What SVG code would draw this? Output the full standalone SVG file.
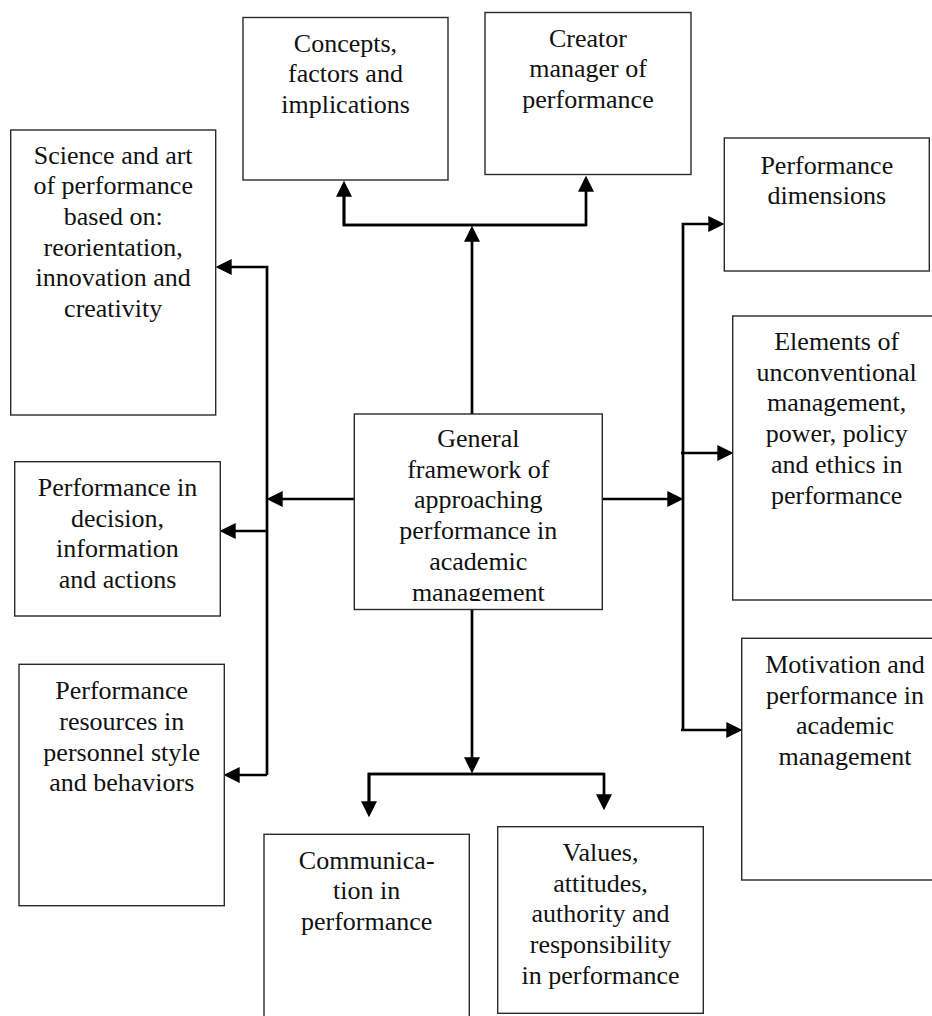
<svg xmlns="http://www.w3.org/2000/svg" width="932" height="1016" viewBox="0 0 932 1016">
<style>
.box{fill:#fff;stroke:#2a2a2a;stroke-width:1.4}
.t{font-family:"Liberation Serif","Times New Roman",serif;font-size:26px;fill:#111;text-anchor:middle}
.c{fill:none;stroke:#000;stroke-width:2.7}
</style>
<defs>
<marker id="ah" markerUnits="userSpaceOnUse" markerWidth="16" markerHeight="16" viewBox="0 0 15 15" refX="10" refY="7.5" orient="auto">
<path d="M0,0 L15,7.5 L0,15 z" fill="#000"/>
</marker>
<clipPath id="clipc"><rect x="354" y="414" width="249" height="187"/></clipPath>
</defs>
<rect width="932" height="1016" fill="#fff"/>

<g id="connectors">
<!-- top -->
<path class="c" d="M472,414 V231" marker-end="url(#ah)"/>
<path class="c" d="M344,186 V225 H586 V181" marker-end="url(#ah)"/>
<path class="c" d="M586,225 H344 V186" marker-end="url(#ah)"/>
<!-- left -->
<path class="c" d="M355,499 H272" marker-end="url(#ah)"/>
<path class="c" d="M267,775 V267 H221" marker-end="url(#ah)"/>
<path class="c" d="M267,531 H225" marker-end="url(#ah)"/>
<path class="c" d="M267,775 H229" marker-end="url(#ah)"/>
<!-- right -->
<path class="c" d="M602,499 H678" marker-end="url(#ah)"/>
<path class="c" d="M683,730 V224 H719" marker-end="url(#ah)"/>
<path class="c" d="M681,453 H728" marker-end="url(#ah)"/>
<path class="c" d="M681,730 H737" marker-end="url(#ah)"/>
<!-- bottom -->
<path class="c" d="M472,598 V768" marker-end="url(#ah)"/>
<path class="c" d="M369,812 V774 H604 V805" marker-end="url(#ah)"/>
<path class="c" d="M604,774 H369 V812" marker-end="url(#ah)"/>
</g>

<g id="n-concepts">
<rect class="box" x="243" y="17.5" width="205" height="162.5"/>
<text class="t"><tspan x="345.5" y="51.5">Concepts,</tspan><tspan x="345.5" y="82.2">factors and</tspan><tspan x="345.5" y="112.9">implications</tspan></text>
</g>
<g id="n-creator">
<rect class="box" x="485" y="12.5" width="206" height="162"/>
<text class="t"><tspan x="588" y="46.5">Creator</tspan><tspan x="588" y="77.2">manager of</tspan><tspan x="588" y="107.9">performance</tspan></text>
</g>
<g id="n-science">
<rect class="box" x="10.7" y="130" width="205" height="285"/>
<text class="t"><tspan x="113.2" y="163.5">Science and art</tspan><tspan x="113.2" y="194.2">of performance</tspan><tspan x="113.2" y="224.9">based on:</tspan><tspan x="113.2" y="255.6">reorientation,</tspan><tspan x="113.2" y="286.3">innovation and</tspan><tspan x="113.2" y="317">creativity</tspan></text>
</g>
<g id="n-decision">
<rect class="box" x="14.7" y="461.7" width="205.6" height="154.3"/>
<text class="t"><tspan x="117.5" y="496">Performance in</tspan><tspan x="117.5" y="526.7">decision,</tspan><tspan x="117.5" y="557.4">information</tspan><tspan x="117.5" y="588.1">and actions</tspan></text>
</g>
<g id="n-resources">
<rect class="box" x="19" y="664.3" width="205.3" height="241.4"/>
<text class="t"><tspan x="121.7" y="699.3">Performance</tspan><tspan x="121.7" y="730">resources in</tspan><tspan x="121.7" y="760.7">personnel style</tspan><tspan x="121.7" y="791.4">and behaviors</tspan></text>
</g>
<g id="n-center">
<rect class="box" x="354.3" y="414" width="248" height="195.5"/>
<text class="t" clip-path="url(#clipc)"><tspan x="478.3" y="447">General</tspan><tspan x="478.3" y="477.7">framework of</tspan><tspan x="478.3" y="508.4">approaching</tspan><tspan x="478.3" y="539.1">performance in</tspan><tspan x="478.3" y="569.8">academic</tspan><tspan x="478.3" y="600.5">management</tspan></text>
</g>
<g id="n-dimensions">
<rect class="box" x="724.3" y="138" width="205" height="133"/>
<text class="t"><tspan x="826.8" y="173.5">Performance</tspan><tspan x="826.8" y="204.2">dimensions</tspan></text>
</g>
<g id="n-elements">
<rect class="box" x="732.7" y="316" width="210" height="284"/>
<text class="t"><tspan x="836.7" y="350">Elements of</tspan><tspan x="836.7" y="380.7">unconventional</tspan><tspan x="836.7" y="411.4">management,</tspan><tspan x="836.7" y="442.1">power, policy</tspan><tspan x="836.7" y="472.8">and ethics in</tspan><tspan x="836.7" y="503.5">performance</tspan></text>
</g>
<g id="n-motivation">
<rect class="box" x="741.7" y="638.3" width="210" height="241.7"/>
<text class="t"><tspan x="845" y="673">Motivation and</tspan><tspan x="845" y="703.7">performance in</tspan><tspan x="845" y="734.4">academic</tspan><tspan x="845" y="765.1">management</tspan></text>
</g>
<g id="n-communication">
<rect class="box" x="264" y="834.3" width="205.3" height="200"/>
<text class="t"><tspan x="366.7" y="868.5">Communica-</tspan><tspan x="366.7" y="899.2">tion in</tspan><tspan x="366.7" y="929.9">performance</tspan></text>
</g>
<g id="n-values">
<rect class="box" x="497.7" y="826.7" width="205.6" height="186.6"/>
<text class="t"><tspan x="600.5" y="861">Values,</tspan><tspan x="600.5" y="891.7">attitudes,</tspan><tspan x="600.5" y="922.4">authority and</tspan><tspan x="600.5" y="953.1">responsibility</tspan><tspan x="600.5" y="983.8">in performance</tspan></text>
</g>
</svg>
